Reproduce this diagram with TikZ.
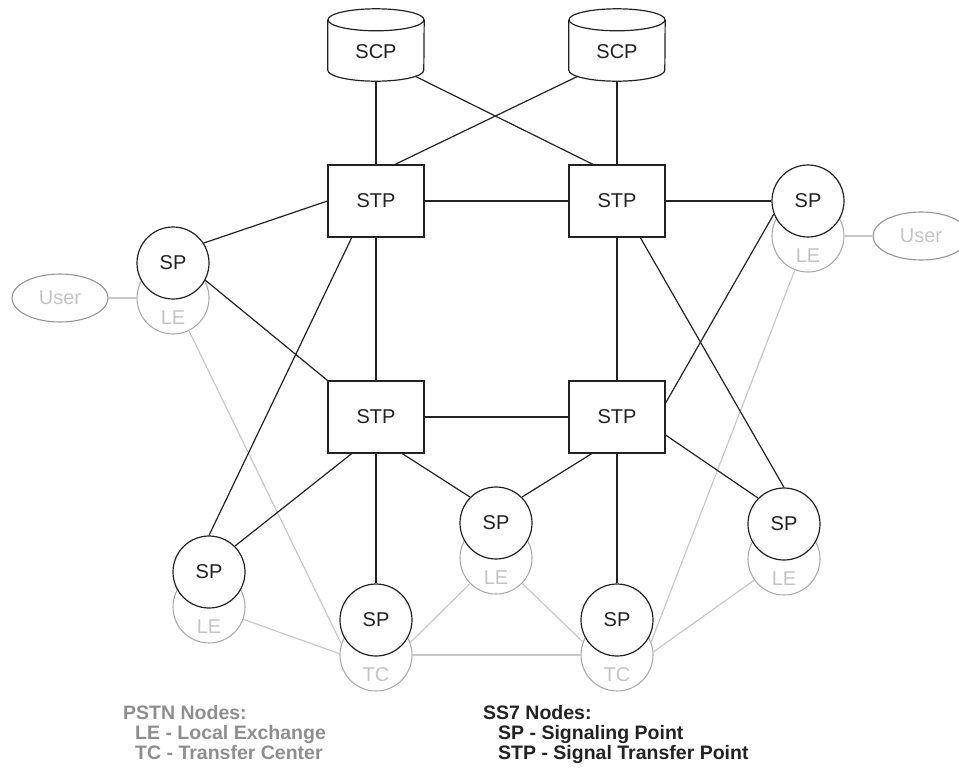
\documentclass[tikz,border=0pt]{standalone}
\usepackage{fontspec}
\setmainfont{Liberation Sans}
\usetikzlibrary{calc,shapes.geometric}

\definecolor{ink}{HTML}{222222}
\definecolor{pstnedge}{HTML}{ABABAB}
\definecolor{pstnwire}{HTML}{C8C8C8}
\definecolor{pstntext}{HTML}{C4C4C4}
\definecolor{useredge}{HTML}{959595}
\definecolor{legendgray}{HTML}{8E8E8E}

\begin{document}
\begin{tikzpicture}[x=1pt,y=-1pt,
  every node/.style={font=\fontsize{20}{24}\selectfont},
  ss7circ/.style={circle,draw=ink,fill=white,line width=1.2pt,minimum size=72pt,inner sep=0pt,text=ink},
  pstncirc/.style={circle,draw=pstnedge,line width=1.1pt,minimum size=72pt,inner sep=0pt},
  pstnlabel/.style={text=pstntext,inner sep=0pt},
  userell/.style={ellipse,draw=useredge,line width=1.1pt,minimum width=96pt,minimum height=48pt,inner sep=0pt,text=pstntext},
  stpbox/.style={rectangle,draw=ink,fill=white,line width=1.2pt,minimum width=96pt,minimum height=72pt,inner sep=0pt,text=ink},
  scpbox/.style={rectangle,minimum width=96pt,minimum height=72pt,inner sep=0pt},
  scplabel/.style={text=ink,inner sep=0pt},
  sigline/.style={draw=ink,line width=1.2pt},
  trunk/.style={draw=pstnwire,line width=1.2pt},
  legendhead/.style={anchor=base west,inner sep=0pt,font=\fontsize{19.5}{23}\selectfont\bfseries},
]
\useasboundingbox (0,0) rectangle (959,774);

% PSTN exchanges (drawn first, partly covered by the SS7 points)
\node[pstncirc] (lel)  at (173,298) {};
\node[pstncirc] (ler)  at (808,236) {};
\node[pstncirc] (lell) at (209,607) {};
\node[pstncirc] (lem)  at (496,558) {};
\node[pstncirc] (lelr) at (784,559) {};
\node[pstncirc] (tc1)  at (376,655) {};
\node[pstncirc] (tc2)  at (617,655) {};

\node[pstnlabel] (lelt)  at ($(lel)+(0,20)$)  {LE};
\node[pstnlabel] (lert)  at ($(ler)+(0,20)$)  {LE};
\node[pstnlabel] (lellt) at ($(lell)+(0,20)$) {LE};
\node[pstnlabel] (lemt)  at ($(lem)+(0,20)$)  {LE};
\node[pstnlabel] (lelrt) at ($(lelr)+(0,20)$) {LE};
\node[pstnlabel] (tc1t)  at ($(tc1)+(0,20)$)  {TC};
\node[pstnlabel] (tc2t)  at ($(tc2)+(0,20)$)  {TC};

\node[userell] (userl) at (60,298) {User};
\node[userell] (userr) at (921,236) {User};

% SS7 signaling points
\node[ss7circ] (spl)  at (173,263) {SP};
\node[ss7circ] (spr)  at (808,201) {SP};
\node[ss7circ] (spll) at (209,572) {SP};
\node[ss7circ] (spm)  at (496,523) {SP};
\node[ss7circ] (splr) at (784,524) {SP};
\node[ss7circ] (spb1) at (376,620) {SP};
\node[ss7circ] (spb2) at (617,620) {SP};

% signal transfer points
\node[stpbox] (stp1) at (376,201) {STP};
\node[stpbox] (stp2) at (617,201) {STP};
\node[stpbox] (stp3) at (376,417) {STP};
\node[stpbox] (stp4) at (617,417) {STP};

% service control points (cylinders)
\node[scpbox] (scp1) at (376,45) {};
\node[scpbox] (scp2) at (617,45) {};
\foreach \n in {scp1,scp2}{
  \draw[ink,line width=1.2pt,fill=white]
    ($(\n.north west)+(0,11)$) -- ($(\n.south west)+(0,-11)$)
    arc[start angle=180,end angle=360,x radius=48pt,y radius=11pt]
    -- ($(\n.north east)+(0,11)$);
  \draw[ink,line width=1.2pt] ($(\n.north)+(0,11)$) ellipse[x radius=48pt,y radius=11pt];
}
\node[scplabel] (scp1t) at ($(scp1)+(0,7)$) {SCP};
\node[scplabel] (scp2t) at ($(scp2)+(0,7)$) {SCP};

% PSTN trunks
\path[trunk] (userl) -- (lel);
\path[trunk] (userr) -- (ler);
\path[trunk] (lel) -- (tc1.162);
\path[trunk] (lell) -- (tc1.178);
\path[trunk] (lem) -- (tc1.20);
\path[trunk] (lem) -- (tc2.159);
\path[trunk] (tc1) -- (tc2);
\path[trunk] (ler) -- (tc2.21);
\path[trunk] (lelr) -- (tc2.5);

% SS7 signaling links
\path[sigline] (scp1.south) -- (stp1.north);
\path[sigline] (scp2.south) -- (stp2.north);
\path[sigline] ($(scp1.south)+(39,-5)$) -- ($(stp2.north)+(-24,0)$);
\path[sigline] ($(scp2.south)+(-39,-5)$) -- ($(stp1.north)+(19,0)$);
\path[sigline] (stp1) -- (stp2);
\path[sigline] (stp3) -- (stp4);
\path[sigline] (stp1) -- (stp3);
\path[sigline] (stp2) -- (stp4);
\path[sigline] (spl.33) -- (stp1.west);
\path[sigline] (spl.-28) -- (stp3.north west);
\path[sigline] ($(stp1.south west)!0.25!(stp1.south east)$) -- (spll.north);
\path[sigline] ($(stp3.south west)!0.25!(stp3.south east)$) -- (spll.45);
\path[sigline] ($(stp3.south west)!0.77!(stp3.south east)$) -- (spm.135);
\path[sigline] ($(stp4.south west)!0.24!(stp4.south east)$) -- (spm.45);
\path[sigline] (stp3.south) -- (spb1.north);
\path[sigline] (stp4.south) -- (spb2.north);
\path[sigline] ($(stp4.east)+(0,18)$) -- (splr.135);
\path[sigline] ($(stp2.south west)!0.74!(stp2.south east)$) -- (splr.north);
\path[sigline] ($(stp4.east)+(0,-14)$) -- (spr.201);
\path[sigline] (stp2.east) -- (spr.west);

% legend
\node[legendhead,text=legendgray] (pstnhead) at (123,719) {PSTN Nodes:};
\node[legendhead,text=legendgray] (pstnle)   at (135,739) {LE - Local Exchange};
\node[legendhead,text=legendgray] (pstntc)   at (135,759) {TC - Transfer Center};
\node[legendhead,text=ink] (ss7head) at (483,719) {SS7 Nodes:};
\node[legendhead,text=ink] (ss7sp)   at (498,739) {SP - Signaling Point};
\node[legendhead,text=ink] (ss7stp)  at (498,759) {STP - Signal Transfer Point};
\end{tikzpicture}
\end{document}
